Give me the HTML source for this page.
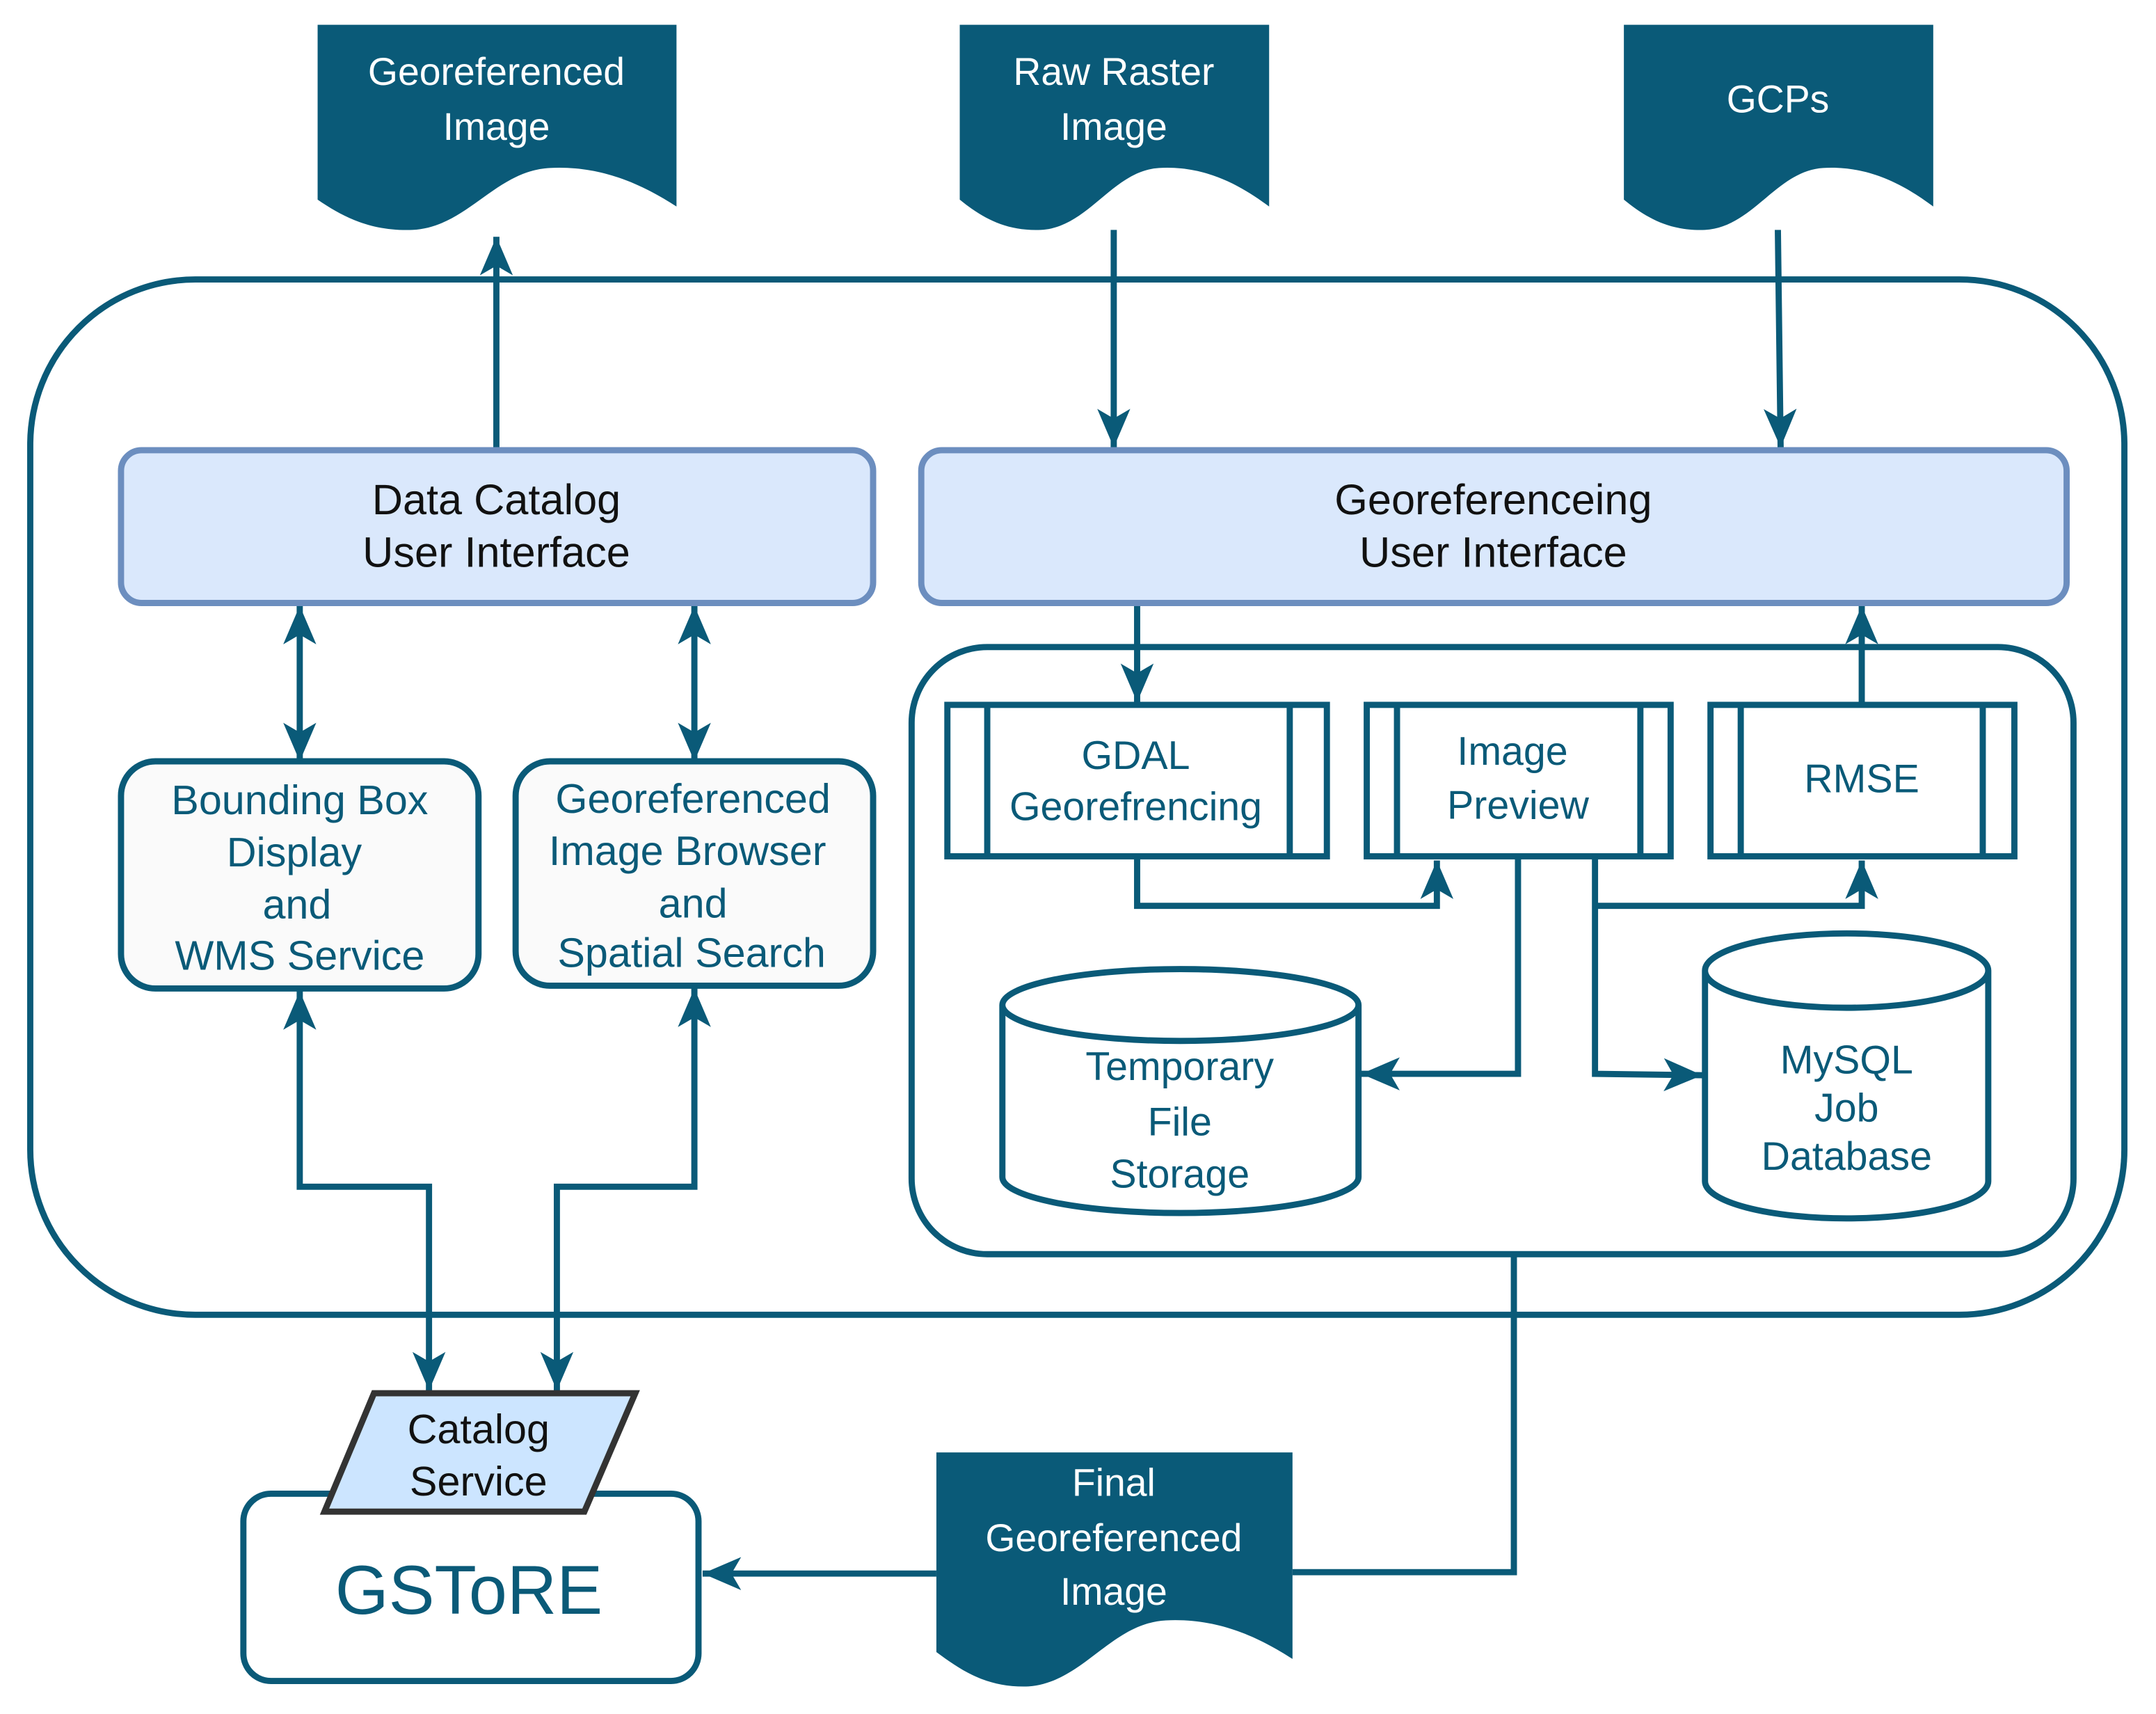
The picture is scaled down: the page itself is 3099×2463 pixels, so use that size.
<!DOCTYPE html>
<html><head><meta charset="utf-8"><style>html,body{margin:0;padding:0;background:#fff}svg{display:block}text{font-family:"Liberation Sans",sans-serif;text-anchor:middle;dominant-baseline:central}</style></head>
<body>
<svg width="3099" height="2463" viewBox="0 0 1568 1245" preserveAspectRatio="none" xmlns="http://www.w3.org/2000/svg">
<defs>
<marker id="a" markerUnits="userSpaceOnUse" markerWidth="30" markerHeight="30" viewBox="0 0 30 30" refX="28" refY="15" orient="auto-start-reverse">
<path d="M0,3 L28,15 L0,27 L7,15 Z" fill="#0a5a78"/>
</marker>
</defs>
<g fill="#0a5a78">
<path d="M231,18 H492 V150 C470,136 440,120 400,122 C360,124 340,165 300,167 C270,168 250,158 231,145 Z"/>
<path d="M698,18 H923 V150 C904,136 878,120 843,122 C809,124 792,165 757,167 C731,168 714,158 698,145 Z"/>
<path d="M1181,18 H1406 V150 C1387,136 1361,120 1326,122 C1292,124 1275,165 1240,167 C1214,168 1197,158 1181,145 Z"/>
<path d="M681,1055 H940 V1205 C918,1191 888,1175 848,1177 C808,1179 788,1222 748,1225 C718,1226 700,1214 681,1200 Z"/>
</g>
<g fill="#fff" font-size="28">
<text x="361" y="52">Georeferenced</text><text x="361" y="92">Image</text>
<text x="810" y="52">Raw Raster</text><text x="810" y="92">Image</text>
<text x="1293" y="72">GCPs</text>
<text x="810" y="1077">Final</text><text x="810" y="1117">Georeferenced</text><text x="810" y="1156">Image</text>
</g>
<g fill="none" stroke="#0a5a78" stroke-width="4.5">
<rect x="22" y="203" width="1523" height="752" rx="120"/>
<rect x="663" y="470" width="845" height="441" rx="55"/>
<rect x="88" y="553" width="260" height="165" rx="25" fill="#fafafa"/>
<rect x="375" y="553" width="260" height="163" rx="25" fill="#fafafa"/>
<rect x="689" y="512" width="276" height="110"/><path d="M718,512V622M938,512V622"/>
<rect x="994" y="512" width="221" height="110"/><path d="M1016,512V622M1193,512V622"/>
<rect x="1244" y="512" width="221" height="110"/><path d="M1266,512V622M1442,512V622"/>
<path d="M729,730 V855 A129,26 0 0 0 988,855 V730 A129,26 0 0 0 729,730 A129,26 0 0 0 988,730" fill="#fff"/>
<path d="M1240,705 V858 A103,27 0 0 0 1446,858 V705 A103,27 0 0 0 1240,705 A103,27 0 0 0 1446,705" fill="#fff"/>
<rect x="177" y="1085" width="331" height="136" rx="20" fill="#fff"/>
<path d="M361,325 V172" marker-end="url(#a)"/>
<path d="M810,167 V325" marker-end="url(#a)"/>
<path d="M1293,167 L1295,325" marker-end="url(#a)"/>
<path d="M218,440 V553" marker-start="url(#a)" marker-end="url(#a)"/>
<path d="M505,440 V553" marker-start="url(#a)" marker-end="url(#a)"/>
<path d="M218,720 V862 H312 V1010" marker-start="url(#a)" marker-end="url(#a)"/>
<path d="M505,718 V862 H405 V1010" marker-start="url(#a)" marker-end="url(#a)"/>
<path d="M827,438 V510" marker-end="url(#a)"/>
<path d="M1354,512 V440" marker-end="url(#a)"/>
<path d="M827,622 V658 H1045 V625" marker-end="url(#a)"/>
<path d="M1104,622 V780 H990" marker-end="url(#a)"/>
<path d="M1160,622 V780 L1238,781" marker-end="url(#a)"/>
<path d="M1160,658 H1354 V625" marker-end="url(#a)"/>
<path d="M1101,911 V1142 H940"/>
<path d="M681,1143 H511" marker-end="url(#a)"/>
</g>
<rect x="88" y="327" width="547" height="111" rx="15" fill="#dae8fc" stroke="#6c8ebf" stroke-width="4.5"/>
<rect x="670" y="327" width="833" height="111" rx="15" fill="#dae8fc" stroke="#6c8ebf" stroke-width="4.5"/>
<polygon points="272,1012 462,1012 425,1098 236,1098" fill="#cce5ff" stroke="#333" stroke-width="4.5"/>
<g fill="#111" font-size="31">
<text x="361" y="363">Data Catalog</text><text x="361" y="401">User Interface</text>
<text x="1086" y="363">Georeferenceing</text><text x="1086" y="401">User Interface</text>
<text x="348" y="1038" font-size="30">Catalog</text><text x="348" y="1076" font-size="30">Service</text>
</g>
<g fill="#0a5a78" font-size="30">
<text x="218" y="581">Bounding Box</text><text x="214" y="619">Display</text><text x="216" y="657">and</text><text x="218" y="694">WMS Service</text>
<text x="504" y="580">Georeferenced</text><text x="500" y="618">Image Browser</text><text x="504" y="656">and</text><text x="503" y="692">Spatial Search</text>
<text x="826" y="549" font-size="29">GDAL</text><text x="826" y="586" font-size="29">Georefrencing</text>
<text x="1100" y="546" font-size="29">Image</text><text x="1104" y="585" font-size="29">Preview</text>
<text x="1354" y="566" font-size="29">RMSE</text>
<text x="858" y="775" font-size="29">Temporary</text><text x="858" y="815" font-size="29">File</text><text x="858" y="853" font-size="29">Storage</text>
<text x="1343" y="770" font-size="29">MySQL</text><text x="1343" y="805" font-size="29">Job</text><text x="1343" y="840" font-size="29">Database</text>
<text x="341" y="1155" font-size="50">GSToRE</text>
</g>
</svg>
</body></html>
